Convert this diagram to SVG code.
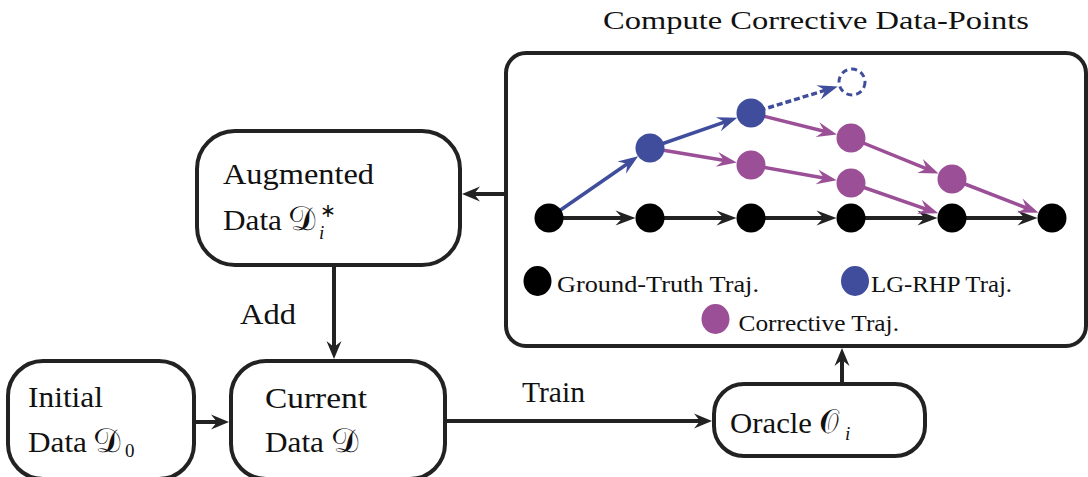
<svg xmlns="http://www.w3.org/2000/svg" width="1088" height="477" viewBox="0 0 1088 477">
  <style>
    .box { fill: #ffffff; stroke: #222222; stroke-width: 4; }
    .lbl { font-family: "Liberation Serif", "Times New Roman", serif; font-size: 29px; fill: #111111; }
    .math { font-family: "DejaVu Serif", "DejaVu Sans", serif; font-size: 34px; fill: #111111; }
    .sub { font-family: "Liberation Serif", serif; font-size: 19px; fill: #111111; }
    .title { font-family: "Liberation Serif", "Times New Roman", serif; font-size: 26px; fill: #111111; }
    .legend { font-family: "Liberation Serif", "Times New Roman", serif; font-size: 24px; fill: #111111; }
    .conn { fill: none; stroke: #222222; stroke-width: 4; }
    .gt { fill: none; stroke: #222222; stroke-width: 4; }
    .blue { fill: none; stroke: #3f4d9c; stroke-width: 3.5; }
    .purple { fill: none; stroke: #9b4f97; stroke-width: 3.5; }
    .n-black { fill: #000000; }
    .n-blue { fill: #3f4d9c; }
    .n-purple { fill: #9b4f97; }
  </style>
  <defs>
    <marker id="arrow-main" viewBox="-20 -9 22 18" refX="-6" refY="0" markerWidth="22" markerHeight="18" markerUnits="userSpaceOnUse" orient="auto">
      <path d="M0,0 L-18,-7.5 L-12,0 L-18,7.5 Z" fill="#222222"/>
    </marker>
    <marker id="arrow-black" viewBox="-22 -9 24 18" refX="-6" refY="0" markerWidth="24" markerHeight="18" markerUnits="userSpaceOnUse" orient="auto">
      <path d="M0,0 L-20,-7.5 L-13,0 L-20,7.5 Z" fill="#222222"/>
    </marker>
    <marker id="arrow-blue" viewBox="-22 -9 24 18" refX="-6" refY="0" markerWidth="24" markerHeight="18" markerUnits="userSpaceOnUse" orient="auto">
      <path d="M0,0 L-20,-7.5 L-13,0 L-20,7.5 Z" fill="#3f4d9c"/>
    </marker>
    <marker id="arrow-purple" viewBox="-22 -9 24 18" refX="-6" refY="0" markerWidth="24" markerHeight="18" markerUnits="userSpaceOnUse" orient="auto">
      <path d="M0,0 L-20,-7.5 L-13,0 L-20,7.5 Z" fill="#9b4f97"/>
    </marker>
  </defs>

  <!-- title above the trajectory panel -->
  <text class="title" x="603" y="29" textLength="426" lengthAdjust="spacingAndGlyphs">Compute Corrective Data-Points</text>

  <!-- main flow connectors -->
  <g id="connectors">
    <line class="conn" x1="506" y1="194" x2="468" y2="194" marker-end="url(#arrow-main)"/>
    <line class="conn" x1="334" y1="265" x2="334" y2="353" marker-end="url(#arrow-main)"/>
    <line class="conn" x1="194" y1="422" x2="223" y2="422" marker-end="url(#arrow-main)"/>
    <line class="conn" x1="445" y1="421" x2="706" y2="421" marker-end="url(#arrow-main)"/>
    <line class="conn" x1="842" y1="384" x2="842" y2="354" marker-end="url(#arrow-main)"/>
    <text class="lbl" x="240" y="324" textLength="56" lengthAdjust="spacingAndGlyphs">Add</text>
    <text class="lbl" x="522" y="402" textLength="63" lengthAdjust="spacingAndGlyphs">Train</text>
  </g>

  <!-- panel with trajectories -->
  <g id="corrective-panel">
    <rect class="box" x="506" y="53" width="580" height="293" rx="20"/>

    <g id="trajectory-edges">
      <!-- ground-truth -->
      <line class="gt" x1="549" y1="218" x2="629.5" y2="218" marker-end="url(#arrow-black)"/>
      <line class="gt" x1="650" y1="218" x2="730.5" y2="218" marker-end="url(#arrow-black)"/>
      <line class="gt" x1="751" y1="218" x2="830.5" y2="218" marker-end="url(#arrow-black)"/>
      <line class="gt" x1="851" y1="218" x2="931.5" y2="218" marker-end="url(#arrow-black)"/>
      <line class="gt" x1="952" y1="218" x2="1031.5" y2="218" marker-end="url(#arrow-black)"/>
      <!-- LG-RHP -->
      <line class="blue" x1="549" y1="218" x2="633.2" y2="159.7" marker-end="url(#arrow-blue)"/>
      <line class="blue" x1="650" y1="148" x2="731.6" y2="119.7" marker-end="url(#arrow-blue)"/>
      <line class="blue" x1="751" y1="113" x2="832" y2="88.2" stroke-dasharray="6 3" marker-end="url(#arrow-blue)"/>
      <!-- corrective -->
      <line class="purple" x1="650" y1="148" x2="730.8" y2="161.6" marker-end="url(#arrow-purple)"/>
      <line class="purple" x1="751" y1="113" x2="831.1" y2="133" marker-end="url(#arrow-purple)"/>
      <line class="purple" x1="751" y1="165" x2="830.8" y2="179.3" marker-end="url(#arrow-purple)"/>
      <line class="purple" x1="851" y1="138" x2="933" y2="171.3" marker-end="url(#arrow-purple)"/>
      <line class="purple" x1="851" y1="183" x2="932.6" y2="211.3" marker-end="url(#arrow-purple)"/>
      <line class="purple" x1="952" y1="179" x2="1032.9" y2="210.5" marker-end="url(#arrow-purple)"/>
    </g>

    <g id="trajectory-points">
      <circle class="n-black" cx="549" cy="218" r="14.5"/>
      <circle class="n-black" cx="650" cy="218" r="14.5"/>
      <circle class="n-black" cx="751" cy="218" r="14.5"/>
      <circle class="n-black" cx="851" cy="218" r="14.5"/>
      <circle class="n-black" cx="952" cy="218" r="14.5"/>
      <circle class="n-black" cx="1052" cy="218" r="14.5"/>
      <circle class="n-blue" cx="650" cy="148" r="14.5"/>
      <circle class="n-blue" cx="751" cy="113" r="14.5"/>
      <circle cx="852" cy="82" r="13" fill="none" stroke="#3f4d9c" stroke-width="3" stroke-dasharray="6 4"/>
      <circle class="n-purple" cx="751" cy="165" r="14.5"/>
      <circle class="n-purple" cx="851" cy="138" r="14.5"/>
      <circle class="n-purple" cx="851" cy="183" r="14.5"/>
      <circle class="n-purple" cx="952" cy="179" r="14.5"/>
    </g>

    <g id="legend">
      <ellipse class="n-black" cx="537.5" cy="281" rx="14" ry="15"/>
      <text class="legend" x="557" y="292" textLength="202" lengthAdjust="spacingAndGlyphs">Ground-Truth Traj.</text>
      <ellipse class="n-blue" cx="855" cy="281" rx="14" ry="15"/>
      <text class="legend" x="871" y="292" textLength="141" lengthAdjust="spacingAndGlyphs">LG-RHP Traj.</text>
      <ellipse class="n-purple" cx="715.5" cy="319" rx="14" ry="15"/>
      <text class="legend" x="738.5" y="331" textLength="160.5" lengthAdjust="spacingAndGlyphs">Corrective Traj.</text>
    </g>
  </g>

  <!-- script letters are straightened a little with a skew about their baseline -->
  <g id="augmented-data">
    <rect class="box" x="197" y="131" width="263" height="134" rx="38"/>
    <text class="lbl" x="223" y="184" textLength="151" lengthAdjust="spacingAndGlyphs">Augmented</text>
    <text class="lbl" x="223" y="230" textLength="59" lengthAdjust="spacingAndGlyphs">Data</text>
    <text class="math" transform="translate(291,230) skewX(14)" x="0" y="0">𝒟</text>
    <text class="sub" x="319" y="239" font-style="italic">i</text>
    <text class="sub" x="320" y="217" font-size="16">∗</text>
  </g>

  <g id="initial-data">
    <rect class="box" x="8" y="361" width="186" height="118" rx="35"/>
    <text class="lbl" x="28" y="407" textLength="75" lengthAdjust="spacingAndGlyphs">Initial</text>
    <text class="lbl" x="28" y="452" textLength="59" lengthAdjust="spacingAndGlyphs">Data</text>
    <text class="math" transform="translate(96,452) skewX(14)" x="0" y="0">𝒟</text>
    <text class="sub" x="125" y="457">0</text>
  </g>

  <g id="current-data">
    <rect class="box" x="231" y="361" width="214" height="118" rx="35"/>
    <text class="lbl" x="265" y="408" textLength="102" lengthAdjust="spacingAndGlyphs">Current</text>
    <text class="lbl" x="265" y="452" textLength="59" lengthAdjust="spacingAndGlyphs">Data</text>
    <text class="math" transform="translate(334,452) skewX(14)" x="0" y="0">𝒟</text>
  </g>

  <g id="oracle">
    <rect class="box" x="714" y="384" width="211" height="72" rx="30"/>
    <text class="lbl" x="730" y="433" textLength="82" lengthAdjust="spacingAndGlyphs">Oracle</text>
    <text class="math" transform="translate(821,433) skewX(14)" x="0" y="0">𝒪</text>
    <text class="sub" x="845" y="440" font-style="italic">i</text>
  </g>
</svg>
